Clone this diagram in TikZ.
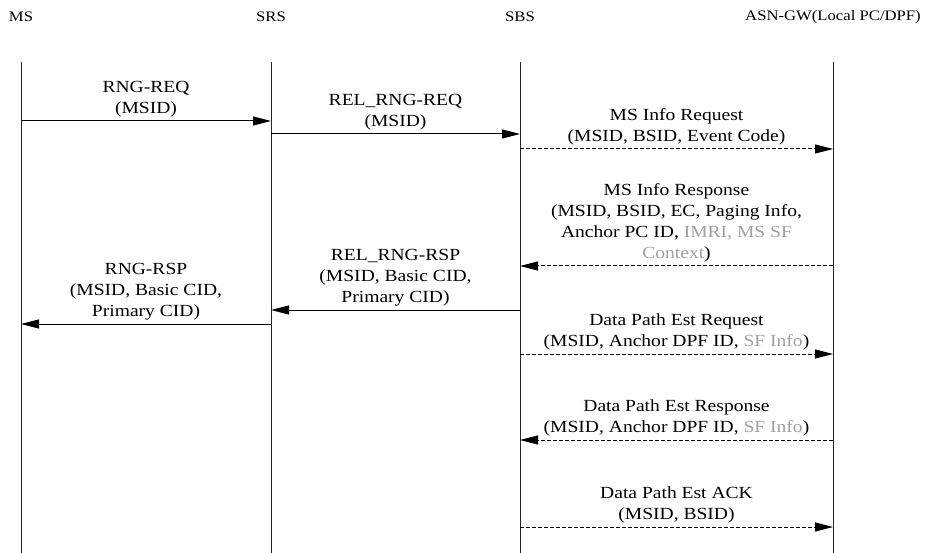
\documentclass[tikz,border=0pt]{standalone}
\usepackage{fontspec}
\setmainfont{Liberation Serif}[FakeStretch=1.15]
\usetikzlibrary{arrows.meta}
\definecolor{softgray}{RGB}{160,160,160}
\tikzset{
  head/.style={font=\fontsize{14.5}{18}\selectfont, inner sep=0pt},
  life/.style={line width=0.9pt, black!85},
  msg/.style={line width=1pt, -{Triangle[length=18pt,width=9pt]}},
  resp/.style={msg, dash pattern=on 4pt off 2pt},
  lbl/.style={above, align=center, inner sep=3pt, font=\fontsize{17}{21}\selectfont},
}
\begin{document}
\begin{tikzpicture}[x=1pt,y=-1pt]
			\useasboundingbox (0,0) rectangle (926,553);
			% entities
			\node[head] (ms)  at (21,17)  {MS};
			\node[head] (srs) at (271,17) {SRS};
			\node[head] (sbs) at (520,17) {SBS};
			\node[head] (gw)  at (833,17) {ASN-GW(Local PC/DPF)};
			\coordinate (top) at (0,62);
			\coordinate (bot) at (0,553);
			\foreach \e in {ms,srs,sbs,gw}
				\draw[life] (\e |- top) -- (\e |- bot);
			% message rows
			\coordinate (r1) at (0,121);
			\coordinate (r2) at (0,134);
			\coordinate (r3) at (0,149);
			\coordinate (r4) at (0,266);
			\coordinate (r5) at (0,310);
			\coordinate (r6) at (0,324);
			\coordinate (r7) at (0,354);
			\coordinate (r8) at (0,440);
			\coordinate (r9) at (0,527);
			\draw[msg] (ms |- r1) -- node[lbl] (l1) {RNG-REQ\\(MSID)} (srs |- r1);
			\draw[msg] (srs |- r2) -- node[lbl] (l2) {REL\_RNG-REQ\\(MSID)} (sbs |- r2);
			\draw[resp] (sbs |- r3) -- node[lbl] (l3) {MS Info Request\\(MSID, BSID, Event Code)} (gw |- r3);
			\draw[resp] (gw |- r4) -- node[lbl] (l4) {MS Info Response\\(MSID, BSID, EC, Paging Info,\\Anchor PC ID, \textcolor{softgray}{IMRI, MS SF}\\\textcolor{softgray}{Context})} (sbs |- r4);
			\draw[msg] (sbs |- r5) -- node[lbl] (l5) {REL\_RNG-RSP\\(MSID, Basic CID,\\Primary CID)} (srs |- r5);
			\draw[msg] (srs |- r6) -- node[lbl] (l6) {RNG-RSP\\(MSID, Basic CID,\\Primary CID)} (ms |- r6);
			\draw[resp] (sbs |- r7) -- node[lbl] (l7) {Data Path Est Request\\(MSID, Anchor DPF ID, \textcolor{softgray}{SF Info})} (gw |- r7);
			\draw[resp] (gw |- r8) -- node[lbl] (l8) {Data Path Est Response\\(MSID, Anchor DPF ID, \textcolor{softgray}{SF Info})} (sbs |- r8);
			\draw[resp] (sbs |- r9) -- node[lbl] (l9) {Data Path Est ACK\\(MSID, BSID)} (gw |- r9);
\end{tikzpicture}
\end{document}
